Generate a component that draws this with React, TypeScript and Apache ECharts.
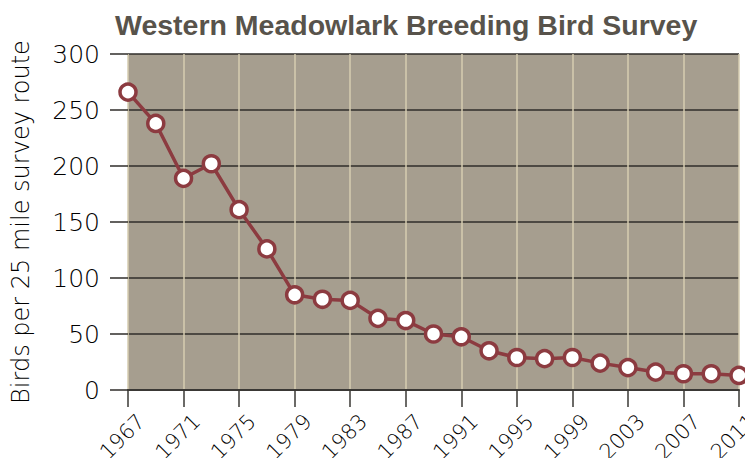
import React, { useEffect, useRef } from "react";
import * as echarts from "echarts";

const years = [
  "1967", "1969", "1971", "1973", "1975", "1977", "1979", "1981", "1983", "1985", "1987", "1989",
  "1991", "1993", "1995", "1997", "1999", "2001", "2003", "2005", "2007", "2009", "2011",
];
const birds = [266, 238, 189, 202, 161, 126, 85, 81, 80, 64, 62, 50, 47.5, 35, 29, 28, 29, 24, 20, 16, 14.5, 14.5, 13];
const yTicks = [0, 50, 100, 150, 200, 250, 300];

const labelFont = "'DejaVu Sans ExtraLight', 'DejaVu Sans', sans-serif";

export default function App() {
  const ref = useRef<HTMLDivElement>(null);
  useEffect(() => {
    if (!ref.current) return;
    const chart = echarts.init(ref.current, null, { renderer: "svg" });
    chart.setOption({
      animation: false,
      backgroundColor: "#ffffff",
      title: {
        text: "Western Meadowlark Breeding Bird Survey",
        left: 110,
        top: 5,
        textStyle: {
          fontFamily: "Liberation Sans",
          fontWeight: "bold",
          fontSize: 28.5,
          color: "#58534b",
        },
      },
      grid: {
        left: 128,
        right: 14,
        top: 54,
        bottom: 76,
        show: true,
        backgroundColor: "#a69e8f",
        borderWidth: 0,
        outerBoundsMode: "none",
        containLabel: false,
      },
      xAxis: {
        type: "category",
        data: years,
        boundaryGap: false,
        axisLine: { show: true, lineStyle: { color: "#3a3835", width: 2 } },
        axisTick: {
          show: true,
          interval: 1,
          length: 17,
          lineStyle: { color: "#3a3835", width: 1.5 },
        },
        splitLine: {
          show: true,
          interval: 1,
          lineStyle: { color: "#d6ccb0", width: 1.5 },
        },
        axisLabel: {
          interval: 1,
          rotate: 45,
          margin: 41,
          align: "center",
          verticalAlign: "middle",
          fontFamily: labelFont,
          fontWeight: 200,
          fontSize: 21,
          color: "#000000",
          formatter: (v: string) => `${v}{s| }`,
          rich: { s: { width: 16, fontSize: 21 } },
        },
      },
      yAxis: {
        type: "value",
        min: 0,
        max: 300,
        interval: 50,
        name: "Birds per 25 mile survey route",
        nameLocation: "middle",
        nameGap: 95,
        nameTextStyle: {
          fontFamily: labelFont,
          fontWeight: 200,
          fontSize: 24,
          color: "#000000",
        },
        axisLine: { show: false },
        axisTick: {
          show: true,
          length: 18,
          lineStyle: { color: "#2f2d2a", width: 1.5 },
        },
        splitLine: { show: true, lineStyle: { color: "#2f2d2a", width: 1.5 } },
        axisLabel: {
          margin: 28,
          fontFamily: labelFont,
          fontWeight: 200,
          fontSize: 25,
          color: "#000000",
          formatter: (v: number) => (yTicks.includes(v) ? String(v) : ""),
        },
      },
      series: [
        {
          type: "line",
          data: birds,
          symbol: "circle",
          symbolSize: 16,
          lineStyle: { color: "#8c3b40", width: 3.5 },
          itemStyle: { color: "#ffffff", borderColor: "#8c3b40", borderWidth: 3.5 },
          z: 5,
        },
      ],
    });
    return () => chart.dispose();
  }, []);
  return <div ref={ref} style={{ width: 753, height: 466, margin: -8 }} />;
}
